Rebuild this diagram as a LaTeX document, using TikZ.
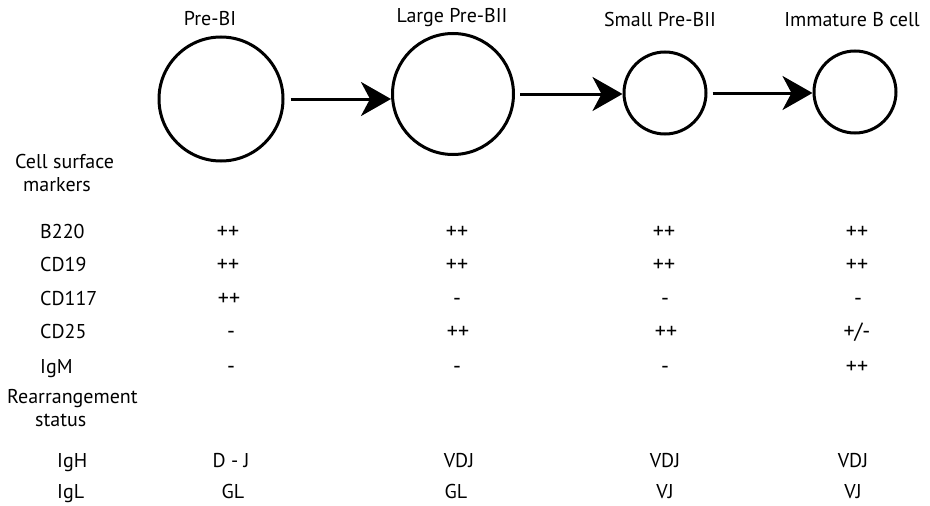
\documentclass[tikz,border=0pt]{standalone}
\usepackage{fontspec}
\setmainfont{PT Sans}
\usepackage{tikz}
\usetikzlibrary{arrows.meta,positioning}

\begin{document}
\begin{tikzpicture}[x=1pt,y=-1pt,
  cell/.style={draw,circle,line width=3pt,minimum size=#1,inner sep=0pt},
  arr/.style={-{Stealth[length=30pt,width=34pt,inset=9pt]},line width=3pt},
  lbl/.style={font=\fontsize{20}{23}\selectfont,anchor=base,inner sep=0pt},
  val/.style={lbl,font=\fontsize{22}{23}\selectfont},
  head/.style={lbl,align=left,anchor=north west},
  rowlbl/.style={lbl,anchor=base west}]
\useasboundingbox (0,0) rectangle (930,506);
% cells
\node[cell=124pt] (pbi) at (221,99) {};
\node[cell=121pt] (lpbii) at (453,94) {};
\node[cell=82pt] (spbii) at (665,93) {};
\node[cell=82pt] (imm) at (855,92) {};
\node[lbl] (tpbi) at (210,25) {Pre-BI};
\node[lbl] (tlpbii) at (452,23) {Large Pre-BII};
\node[lbl] (tspbii) at (660,26) {Small Pre-BII};
\node[lbl] (timm) at (852,26) {Immature B cell};
\draw[arr] ([xshift=6pt]pbi.east) -- (pbi.east -| lpbii.west);
\draw[arr] ([xshift=5pt]lpbii.east) -- (lpbii.east -| spbii.west);
\draw[arr] ([xshift=5pt]spbii.east) -- (spbii.east -| imm.west);
% markers
\node[head] (csm) at (15,154) {Cell surface\\\hspace*{8pt}markers};
\node[rowlbl] (b220) at (40,238) {B220};
\node[rowlbl] (cd19) at (40,271) {CD19};
\node[rowlbl] (cd117) at (40,305) {CD117};
\node[rowlbl] (cd25) at (40,338) {CD25};
\node[rowlbl] (igm) at (40,373) {IgM};
\node[val] at (228,238) {++}; \node[val] at (457,238) {++}; \node[val] at (664,238) {++}; \node[val] at (857,238) {++};
\node[val] at (228,271) {++}; \node[val] at (457,271) {++}; \node[val] at (664,271) {++}; \node[val] at (857,271) {++};
\node[val] at (229,305) {++}; \node[val] at (457,305) {-}; \node[val] at (665,305) {-}; \node[val] at (858,305) {-};
\node[val] at (231,338) {-}; \node[val] at (458,338) {++}; \node[val] at (666,338) {++}; \node[val] at (857,338) {+/-};
\node[val] at (231,373) {-}; \node[val] at (457,373) {-}; \node[val] at (665,373) {-}; \node[val] at (857,373) {++};
% rearrangement
\node[head] (rst) at (7,389) {Rearrangement\\\hspace*{28pt}status};
\node[rowlbl] (igh) at (57,467) {IgH};
\node[rowlbl] (igl) at (57,498) {IgL};
\node[lbl] at (231,467) {D - J}; \node[lbl] at (459,467) {VDJ}; \node[lbl] at (665,467) {VDJ}; \node[lbl] at (853,467) {VDJ};
\node[lbl] at (233,498) {GL}; \node[lbl] at (456,498) {GL}; \node[lbl] at (665,498) {VJ}; \node[lbl] at (853,498) {VJ};
\end{tikzpicture}
\end{document}
